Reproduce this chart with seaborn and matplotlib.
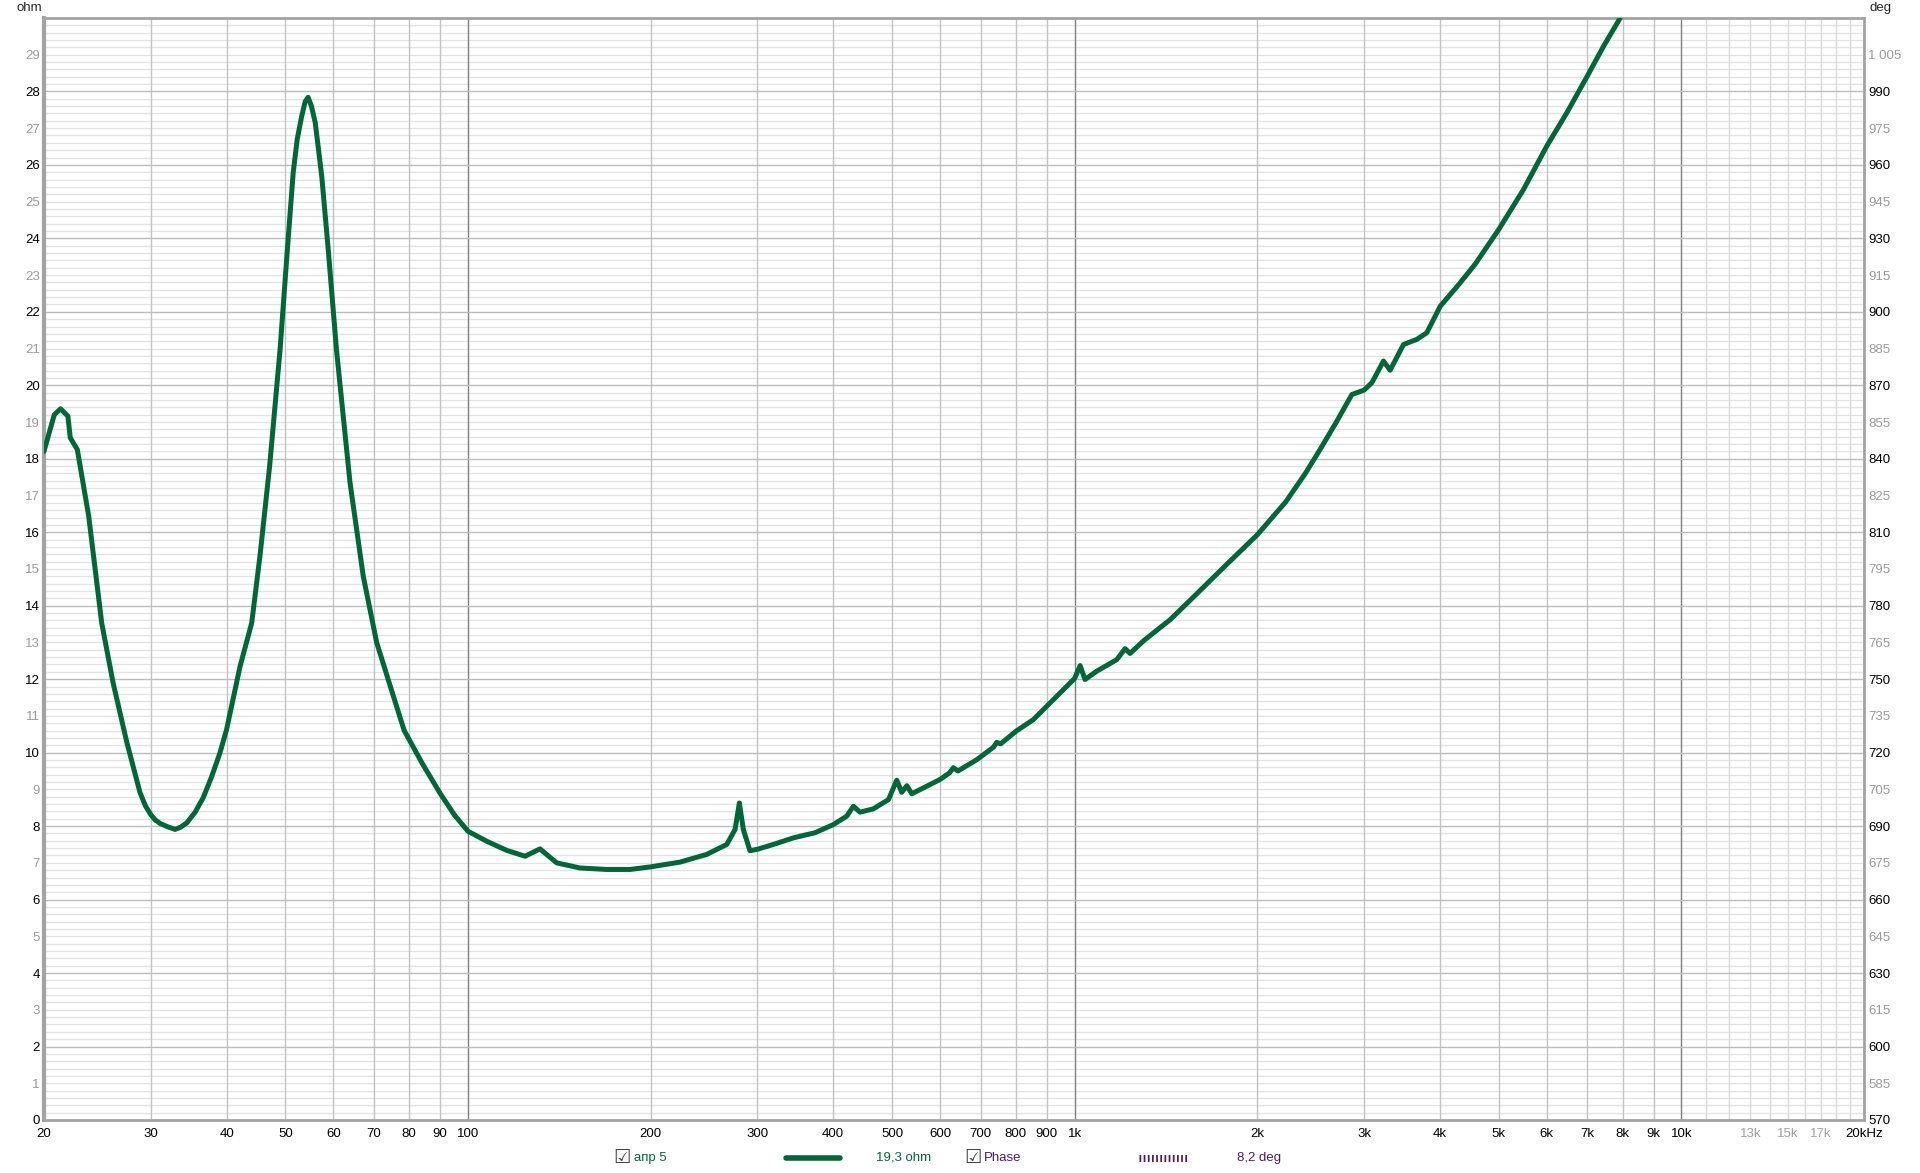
import numpy as np
import pandas as pd
import matplotlib
matplotlib.use("Agg")
import matplotlib.pyplot as plt
import seaborn as sns
from matplotlib.lines import Line2D

# impedance curve
freq_hz = [20, 20.8, 21.3, 21.9, 22.1, 22.7, 23.7, 24.9, 26.0, 27.4,
           28.8, 29.4, 30, 30.5, 31.1, 32.0, 32.9, 33.6, 34.4, 35.5,
           36.6, 37.8, 39.0, 40, 42.1, 44.0, 45.4, 47.1, 49.0, 50.4,
           51.5, 52.3, 53.2, 53.9, 54.5, 55.2, 56.0, 57.4, 58.8, 60.7,
           63.9, 67.2, 70.7, 74.9, 78.5, 84.1, 89.9, 95, 100, 107.3,
           115.8, 124.2, 131.4, 140, 152.9, 169.2, 185, 200, 223.6, 247.5,
           267, 275.6, 280.1, 284.3, 291.6, 300, 318.6, 343.8, 373.3, 400,
           421, 431.8, 442.8, 465.8, 493.2, 509, 518.8, 528.9, 539, 600,
           622, 631, 642, 690, 735, 744, 755, 800, 855, 1000,
           1021, 1040, 1088, 1173, 1211, 1234, 1300, 1437, 1573, 1767,
           2000, 2229, 2400, 2538, 2700, 2864, 3000, 3090, 3229, 3311,
           3484, 3664, 3806, 4004, 4300, 4574, 5000, 5494, 6000, 6476,
           7000, 7444, 7930]
impedance_ohm = [18.2, 19.2, 19.36, 19.16, 18.57, 18.25, 16.44, 13.53, 11.9, 10.27,
                 8.91, 8.55, 8.31, 8.17, 8.07, 7.98, 7.91, 7.97, 8.09, 8.38,
                 8.77, 9.35, 9.99, 10.63, 12.35, 13.53, 15.35, 17.8, 20.97, 23.74,
                 25.78, 26.7, 27.33, 27.72, 27.84, 27.6, 27.15, 25.69, 23.74, 20.97,
                 17.35, 14.8, 13.0, 11.67, 10.6, 9.7, 8.9, 8.3, 7.86, 7.59,
                 7.34, 7.18, 7.38, 7.0, 6.86, 6.82, 6.82, 6.89, 7.02, 7.23,
                 7.5, 7.91, 8.63, 7.91, 7.33, 7.37, 7.5, 7.68, 7.82, 8.04,
                 8.27, 8.54, 8.38, 8.47, 8.72, 9.25, 8.92, 9.10, 8.88, 9.27,
                 9.45, 9.59, 9.5, 9.81, 10.15, 10.28, 10.24, 10.58, 10.9, 12.02,
                 12.37, 11.99, 12.22, 12.53, 12.83, 12.7, 13.05, 13.62, 14.25, 15.07,
                 15.93, 16.83, 17.6, 18.25, 19.0, 19.75, 19.87, 20.07, 20.66, 20.41,
                 21.11, 21.25, 21.43, 22.15, 22.75, 23.3, 24.24, 25.33, 26.51, 27.42,
                 28.42, 29.23, 30.0]

x_ticks = [20, 30, 40, 50, 60, 70, 80, 90, 100, 200, 300, 400, 500, 600, 700, 800, 900,
           1000, 2000, 3000, 4000, 5000, 6000, 7000, 8000, 9000, 10000, 13000, 15000, 17000, 20000]
x_labels = ["20", "30", "40", "50", "60", "70", "80", "90", "100", "200", "300", "400", "500",
            "600", "700", "800", "900", "1k", "2k", "3k", "4k", "5k", "6k", "7k", "8k", "9k",
            "10k", "13k", "15k", "17k", "20kHz"]
ohm_ticks = list(range(0, 30))
deg_ticks = list(range(570, 1006, 15))

df = pd.DataFrame({"freq": freq_hz, "ohm": impedance_ohm})

sns.set_style("white")
plt.rcParams["font.family"] = ["Liberation Sans", "DejaVu Sans"]

green = "#006838"
purple = "#4a1a6b"
fs = 9.5

fig = plt.figure(figsize=(19.2, 11.73), dpi=100)
ax = fig.add_axes([0.0229, 0.0452, 0.9479, 0.9395])
ax.set_xscale("log")
ax.set_xlim(20, 20000)
ax.set_ylim(0, 30)

# grid
grid_f = list(range(20, 100, 10)) + list(range(100, 1000, 100)) + \
    list(range(1000, 10000, 1000)) + list(range(10000, 20001, 1000))
for f in grid_f:
    if f in (100, 1000, 10000):
        c = "#7f7f7f"
    elif f > 10000:
        c = "#dadada"
    else:
        c = "#c3c3c3"
    ax.axvline(f, color=c, lw=1, zorder=1)
for k in range(1, 150):
    v = k * 0.2
    if k % 10 == 0:
        ax.axhline(v, color="#bcbcbc", lw=1, zorder=1)
    else:
        ax.axhline(v, color="#e3e3e3", lw=1, zorder=0.5)

sns.lineplot(data=df, x="freq", y="ohm", ax=ax, color=green, lw=3.6,
             estimator=None, sort=False, zorder=3)
for ln in ax.lines[-1:]:
    ln.set_solid_joinstyle("round")
ax.set_xlabel("")
ax.set_ylabel("")

for s in ax.spines.values():
    s.set_color("#a3a3a3")
    s.set_linewidth(2)
ax.spines["left"].set_linewidth(3)

ax.xaxis.set_minor_locator(matplotlib.ticker.NullLocator())
ax.set_xticks(x_ticks)
ax.set_xticklabels(x_labels, fontsize=fs)
for t, f in zip(ax.get_xticklabels(), x_ticks):
    t.set_color("#a0a0a0" if f in (13000, 15000, 17000) else "black")
ax.set_yticks(ohm_ticks)
ax.set_yticklabels([str(v) for v in ohm_ticks], fontsize=fs)
for t, v in zip(ax.get_yticklabels(), ohm_ticks):
    t.set_color("black" if v % 2 == 0 else "#9a9a9a")
ax.tick_params(axis="y", length=0, pad=3)
ax.tick_params(axis="x", length=0, pad=6)

ax2 = ax.twinx()
ax2.set_ylim(570, 1020)
ax2.set_yticks(deg_ticks)
ax2.set_yticklabels([f"{v:,}".replace(",", " ") for v in deg_ticks], fontsize=fs)
for t, v in zip(ax2.get_yticklabels(), deg_ticks):
    t.set_color("black" if (v - 570) % 30 == 0 else "#9a9a9a")
ax2.tick_params(axis="y", length=0, pad=3)
for s in ax2.spines.values():
    s.set_visible(False)

fig.text(0.0085, 0.9935, "ohm", fontsize=fs, va="center")
fig.text(0.9735, 0.9935, "deg", fontsize=fs, va="center")

# legend row
ly = 0.0128
fig.text(0.3195, ly, "\u2611", fontsize=14, va="center", color="#444444")
fig.text(0.3300, ly, "апр 5", fontsize=fs, va="center", color=green)
fig.add_artist(Line2D([0.4094, 0.4375], [ly, ly], transform=fig.transFigure,
                      color=green, lw=4, solid_capstyle="round"))
fig.text(0.4562, ly, "19,3 ohm", fontsize=fs, va="center", color=green)
fig.text(0.5022, ly, "\u2611", fontsize=14, va="center", color="#444444")
fig.text(0.5125, ly, "Phase", fontsize=fs, va="center", color=purple)
fig.add_artist(Line2D([0.5932, 0.6188], [ly, ly], transform=fig.transFigure,
                      color=purple, lw=5, dashes=(0.25, 0.35)))
fig.text(0.6443, ly, "8,2 deg", fontsize=fs, va="center", color=purple)

fig.savefig("out.png", dpi=100)
